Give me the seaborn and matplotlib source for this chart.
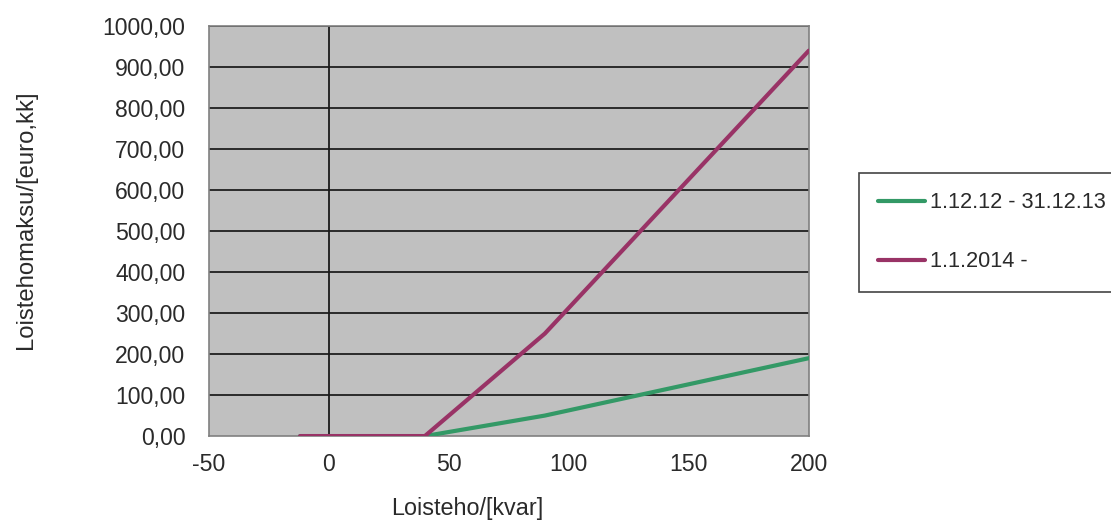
import pandas as pd
import matplotlib
matplotlib.use('Agg')
import matplotlib.pyplot as plt
import seaborn as sns
from matplotlib.ticker import FuncFormatter

# data
loisteho = [-12, 40, 90, 200]
maksu_2013 = [0, 0, 50, 190]
maksu_2014 = [0, 0, 250, 940]
labels = ['1.12.12 - 31.12.13', '1.1.2014 -']

df = pd.DataFrame({
    'Loisteho': loisteho * 2,
    'Maksu': maksu_2013 + maksu_2014,
    'Jakso': [labels[0]] * len(loisteho) + [labels[1]] * len(loisteho),
})

sns.set_style('white')
plt.rcParams['font.family'] = ['Liberation Sans', 'DejaVu Sans']
plt.rcParams['axes.unicode_minus'] = False
txt = '#2a2a2a'

fig = plt.figure(figsize=(11.11, 5.21), dpi=100)
ax = fig.add_axes([0.188, 0.163, 0.540, 0.787])
ax.set_facecolor('#c0c0c0')

for y in range(100, 1001, 100):
    ax.axhline(y, color='#2a2a2a', lw=1.4, zorder=1)
ax.axvline(0, color='#1a1a1a', lw=1.3, zorder=1)

sns.lineplot(data=df, x='Loisteho', y='Maksu', hue='Jakso',
             palette=['#339966', '#993366'], linewidth=3, ax=ax, zorder=3)

ax.set_xlim(-50, 200)
ax.set_ylim(0, 1000)
ax.set_xticks(range(-50, 201, 50))
ax.set_yticks(range(0, 1001, 100))
ax.yaxis.set_major_formatter(FuncFormatter(lambda v, p: f'{v:.2f}'.replace('.', ',')))
ax.tick_params(axis='both', labelsize=16.6, colors=txt, length=5, width=1, direction='out')
ax.tick_params(axis='x', pad=7)
ax.tick_params(axis='y', pad=12)
for s in ax.spines.values():
    s.set_color('#808080')
    s.set_linewidth(1.2)

ax.set_xlabel('Loisteho/[kvar]', fontsize=16.8, color=txt)
ax.set_ylabel('Loistehomaksu/[euro,kk]', fontsize=17.2, color=txt)
ax.xaxis.set_label_coords(0.43, -0.149)
ax.yaxis.set_label_coords(-0.287, 0.527)

h, l = ax.get_legend_handles_labels()
ax.legend_.remove()
leg = fig.legend(h, l, loc='lower left', bbox_to_anchor=(0.773, 0.44, 0.3, 0.23),
                 bbox_transform=fig.transFigure, mode='expand', fontsize=15.7,
                 frameon=True, fancybox=False, edgecolor='#444444', framealpha=1,
                 handlelength=2.15, handleheight=0.7, handletextpad=0.2,
                 labelspacing=1.74, borderpad=0.9, borderaxespad=0)
leg.get_frame().set_linewidth(1.2)
for t in leg.get_texts():
    t.set_color(txt)

fig.savefig('out.png', dpi=100, facecolor='white')
